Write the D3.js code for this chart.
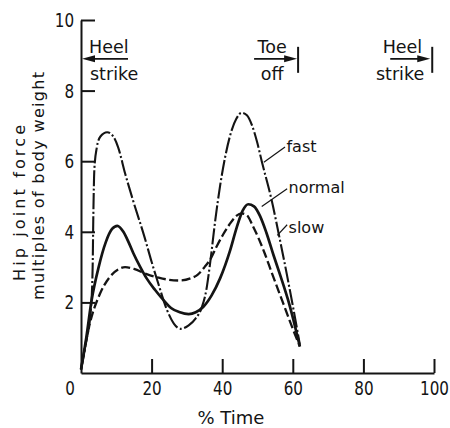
<!DOCTYPE html>
<html>
<head>
<meta charset="utf-8">
<script src="https://cdn.jsdelivr.net/npm/d3@7"></script>
<style>
  body { margin: 0; background: #fff; }
  svg { display: block; }
</style>
</head>
<body>
<svg id="chart" width="450" height="428"></svg>
<script>
'use strict';

// hip joint force vs % of gait cycle
const fastTime  = [0, 1.5, 2.8, 3.3, 3.5, 3.8, 4.5, 5.5, 7.4, 9, 10.5, 12.5, 14.8, 18, 20, 22, 24.3, 26.3, 28.2, 30.5, 32.5, 34.2, 35.5, 36.5, 38, 39.4, 40.8, 42.7, 44, 45.5, 47, 48.5, 50, 51.2, 54, 56.4, 58.3, 60.2, 62];
const fastForce = [0.1, 0.9, 1.8, 3, 4.5, 5.8, 6.4, 6.7, 6.82, 6.72, 6.4, 5.65, 4.87, 3.85, 3.15, 2.5, 1.8, 1.4, 1.25, 1.35, 1.55, 1.85, 2.35, 3.05, 4.3, 5.3, 6.1, 6.88, 7.2, 7.37, 7.3, 7.0, 6.5, 6.0, 4.9, 3.75, 2.8, 1.8, 0.8];

const normalTime  = [0, 1.5, 3, 5, 7, 8.8, 10.3, 12, 13.5, 14.8, 16.8, 18.6, 21, 23.5, 25.5, 28, 30.5, 32.5, 34.6, 37, 39.4, 42.2, 44.1, 45.8, 47.4, 49, 50.7, 52.5, 54.5, 56.5, 59, 62];
const normalForce = [0.1, 1.0, 2.06, 3.0, 3.7, 4.08, 4.17, 4.0, 3.7, 3.4, 3.0, 2.68, 2.35, 2.05, 1.84, 1.72, 1.67, 1.72, 1.87, 2.2, 2.68, 3.46, 4.12, 4.6, 4.78, 4.72, 4.45, 3.98, 3.35, 2.75, 1.95, 0.75];

const slowTime  = [0, 2.5, 5.4, 8, 10.5, 12.5, 15, 18.6, 22, 25, 28, 31, 33, 35, 36.5, 38.5, 40.3, 42, 44, 45.5, 47, 48.5, 50.2, 52, 54, 57, 60, 62];
const slowForce = [0.1, 1.4, 2.25, 2.7, 2.93, 3.0, 2.95, 2.8, 2.7, 2.64, 2.62, 2.68, 2.78, 3.0, 3.2, 3.6, 3.93, 4.2, 4.45, 4.52, 4.47, 4.2, 3.84, 3.4, 2.85, 2.05, 1.25, 0.75];

const xTicks = [20, 40, 60, 80, 100];
const yTicks = [2, 4, 6, 8, 10];

const eventNames = [['Heel', 'strike'], ['Toe', 'off'], ['Heel', 'strike']];
const eventTimes = [0, 61.5, 99.5];

const seriesNames = ['fast', 'normal', 'slow'];

let svg = d3.select('#chart');
let ink = '#141414';
// the old lettering has tall narrow digits, squeeze DejaVu a bit
let digitSqueeze = 'scale(0.76,1)';

let x = d3.scaleLinear().domain([0, 100]).range([81, 434]);
let y = d3.scaleLinear().domain([0, 10]).range([373, 20]);

svg.append('rect').attr('width', 450).attr('height', 428).attr('fill', '#fff');

// axes, ticks point inwards like the original
let xAxis = svg.append('g')
    .attr('transform', `translate(0,${y(0)})`)
    .call(d3.axisBottom(x).tickValues(xTicks).tickSize(-14).tickSizeOuter(0).tickPadding(8));
let yAxis = svg.append('g')
    .attr('transform', `translate(${x(0)},0)`)
    .call(d3.axisLeft(y).tickValues(yTicks).tickSize(-14).tickSizeOuter(0).tickPadding(9));

[xAxis, yAxis].forEach(g => {
    g.attr('font-family', '"DejaVu Sans", sans-serif')
        .attr('font-size', 20);
    g.selectAll('path, line').attr('stroke', ink).attr('stroke-width', 2);
    g.selectAll('text').attr('fill', ink).attr('transform', digitSqueeze);
});

// the lone 0 sits in the corner, left of the y axis
svg.append('text')
    .attr('transform', `translate(${x(0) - 11},${y(0) + 8}) ${digitSqueeze}`)
    .attr('dy', '0.71em')
    .attr('text-anchor', 'middle')
    .attr('font-family', '"DejaVu Sans", sans-serif')
    .attr('font-size', 20).attr('fill', ink)
    .text('0');

svg.append('text')
    .attr('x', 231).attr('y', 424)
    .attr('text-anchor', 'middle')
    .attr('font-family', '"DejaVu Sans", sans-serif')
    .attr('font-size', 18).attr('fill', ink)
    .text('% Time');

svg.append('text')
    .attr('transform', 'translate(25,203) rotate(-90)')
    .attr('text-anchor', 'middle')
    .attr('font-family', '"DejaVu Sans", sans-serif')
    .attr('font-size', 16).attr('fill', ink)
    .attr('textLength', 156).attr('lengthAdjust', 'spacing')
    .text('Hip joint force');
svg.append('text')
    .attr('transform', 'translate(44,186) rotate(-90)')
    .attr('text-anchor', 'middle')
    .attr('font-family', '"DejaVu Sans", sans-serif')
    .attr('font-size', 16).attr('fill', ink)
    .attr('textLength', 228).attr('lengthAdjust', 'spacing')
    .text('multiples of body weight');

// curves
let line = d3.line()
    .x(d => x(d[0]))
    .y(d => y(d[1]))
    .curve(d3.curveMonotoneX);

let series = [
    { name: 'fast', pts: d3.zip(fastTime, fastForce), dash: '16,2.5,2,2.5', width: 2.1 },
    { name: 'normal', pts: d3.zip(normalTime, normalForce), dash: null, width: 2.7 },
    { name: 'slow', pts: d3.zip(slowTime, slowForce), dash: '9,3.5', width: 2.3 }
];

svg.append('g').selectAll('path')
    .data(series)
    .join('path')
    .attr('d', d => line(d.pts))
    .attr('fill', 'none')
    .attr('stroke', ink)
    .attr('stroke-width', d => d.width)
    .attr('stroke-dasharray', d => d.dash)
    .attr('stroke-linejoin', 'round');

// curve labels with their little leader lines (data units)
let labelPos = [[58.2, 6.25], [58.8, 5.1], [58.8, 3.98]];
let leaderFrom = [[57.8, 6.4], [58.4, 5.22], [58.4, 4.2]];
let leaderTo = [[51.8, 5.97], [51.2, 4.72], [55.6, 3.9]];

let labels = svg.append('g')
    .attr('font-family', '"DejaVu Sans", sans-serif')
    .attr('font-size', 16);
seriesNames.forEach((name, i) => {
    labels.append('text')
        .attr('x', x(labelPos[i][0])).attr('y', y(labelPos[i][1]))
        .attr('fill', ink)
        .text(name);
    labels.append('line')
        .attr('x1', x(leaderFrom[i][0])).attr('y1', y(leaderFrom[i][1]))
        .attr('x2', x(leaderTo[i][0])).attr('y2', y(leaderTo[i][1]))
        .attr('stroke', ink).attr('stroke-width', 1.2);
});

// gait events: heel strike / toe off arrows
let arrowY = y(8.9);
let ev = svg.append('g')
    .attr('font-family', '"DejaVu Sans", sans-serif')
    .attr('font-size', 17.5)
    .attr('fill', ink);

function arrow(x1, x2) {
    // shaft from x1 to tip x2
    let dir = x2 > x1 ? 1 : -1;
    ev.append('line')
        .attr('x1', x1).attr('y1', arrowY)
        .attr('x2', x2 - dir * 8).attr('y2', arrowY)
        .attr('stroke', ink).attr('stroke-width', 1.8);
    ev.append('path')
        .attr('d', `M${x2},${arrowY}L${x2 - dir * 13},${arrowY - 3.5}L${x2 - dir * 13},${arrowY + 3.5}Z`)
        .attr('fill', ink);
}

function bar(px) {
    ev.append('line')
        .attr('x1', px).attr('y1', arrowY - 12)
        .attr('x2', px).attr('y2', arrowY + 14)
        .attr('stroke', ink).attr('stroke-width', 2);
}

eventNames.forEach((names, i) => {
    let px = x(eventTimes[i]);
    if (i === 0) {
        arrow(px + 47, px + 1);
        ev.append('text').attr('x', px + 8).attr('y', 53).text(names[0]);
        ev.append('text').attr('x', px + 9).attr('y', 80).text(names[1]);
    } else if (i === 1) {
        arrow(px - 44, px - 1);
        bar(px);
        ev.append('text').attr('x', px - 26).attr('y', 53).attr('text-anchor', 'middle').text(names[0]);
        ev.append('text').attr('x', px - 26).attr('y', 80).attr('text-anchor', 'middle').text(names[1]);
    } else {
        arrow(px - 42, px - 2);
        bar(px);
        ev.append('text').attr('x', px - 10).attr('y', 53).attr('text-anchor', 'end').text(names[0]);
        ev.append('text').attr('x', px - 8).attr('y', 80).attr('text-anchor', 'end').text(names[1]);
    }
});
</script>
</body>
</html>
